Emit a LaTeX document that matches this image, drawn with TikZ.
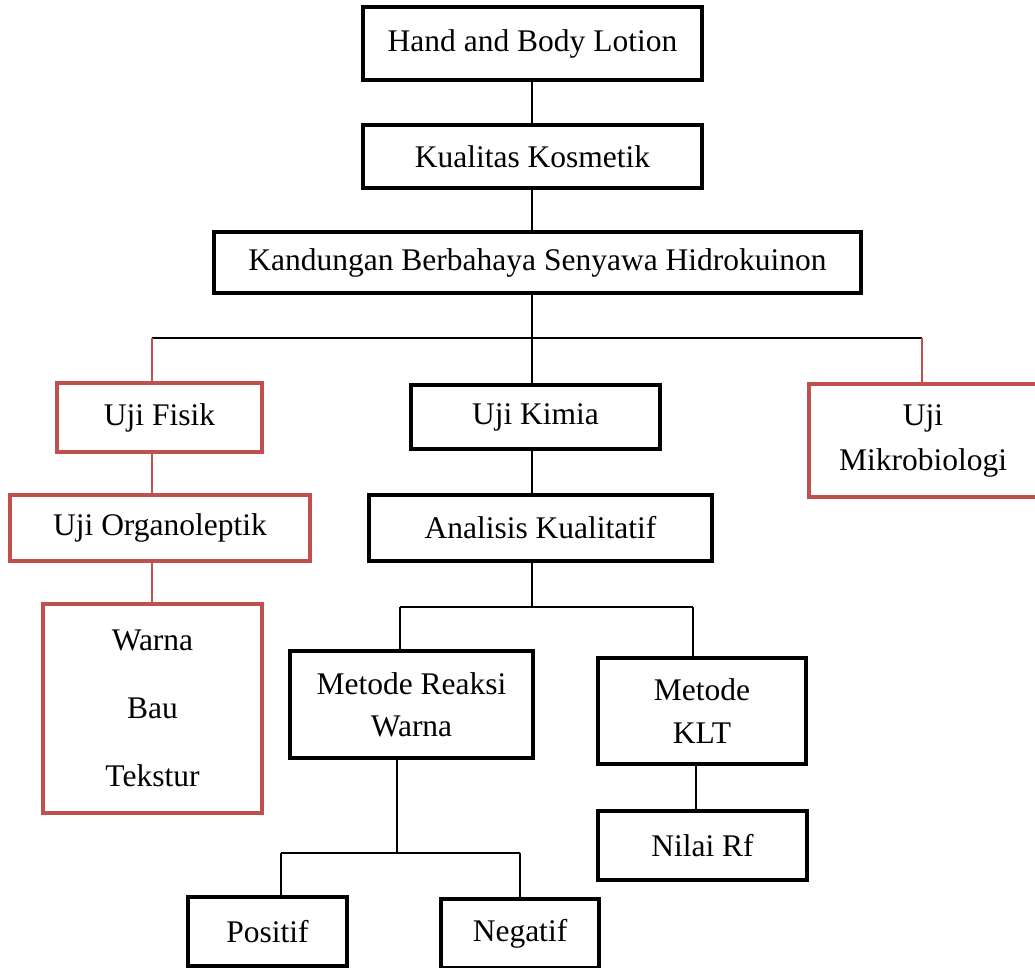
\documentclass[tikz,border=0pt]{standalone}
\usepackage{fontspec}
\setmainfont{Liberation Serif}
\definecolor{redc}{RGB}{192,80,77}
\begin{document}
\begin{tikzpicture}[x=1pt,y=-1pt,
  box/.style={draw=black,line width=4pt,fill=white,align=center,inner sep=0pt,
    font=\fontsize{31.5}{42}\selectfont},
  rbox/.style={box,draw=redc},
  conn/.style={line width=1.4pt,draw=black},
  hconn/.style={line width=2pt,draw=black},
  rconn/.style={line width=1.4pt,draw=redc}]
\useasboundingbox (0,0) rectangle (1035,968);
% nodes
\node[box,minimum width=339pt,minimum height=73pt] (n1) at (532.5,43.5) {Hand and Body Lotion};
\node[box,minimum width=339pt,minimum height=63pt] (n2) at (532.5,156.5) {Kualitas Kosmetik};
\node[box,minimum width=647pt,minimum height=61pt] (n3) at (537.5,262.5) {Kandungan Berbahaya Senyawa Hidrokuinon};
\node[rbox,minimum width=205pt,minimum height=69pt] (fis) at (159.5,417.5) {Uji Fisik};
\node[box,minimum width=249pt,minimum height=64pt] (kim) at (535.5,417) {Uji Kimia};
\node[rbox,minimum width=228pt,minimum height=113pt,font=\fontsize{31.5}{45}\selectfont] (mik) at (923,440.5) {Uji\\Mikrobiologi};
\node[rbox,minimum width=300pt,minimum height=66pt] (org) at (160,528) {Uji Organoleptik};
\node[box,minimum width=343pt,minimum height=66pt] (ana) at (540.5,528) {Analisis Kualitatif};
\node[rbox,minimum width=219pt,minimum height=209pt,font=\fontsize{31.5}{68}\selectfont] (wbt) at (152.5,708.5) {Warna\\Bau\\Tekstur};
\node[box,minimum width=243pt,minimum height=107pt] (mrw) at (411.5,704.5) {Metode Reaksi\\Warna};
\node[box,minimum width=208pt,minimum height=106pt,font=\fontsize{31.5}{43}\selectfont] (klt) at (702,711) {Metode\\KLT};
\node[box,minimum width=209pt,minimum height=69pt] (rf) at (702.5,845.5) {Nilai Rf};
\node[box,minimum width=159pt,minimum height=69pt] (pos) at (267.5,931.5) {Positif};
\node[box,minimum width=158pt,minimum height=69pt] (neg) at (520,933.5) {Negatif};
% junctions
\coordinate (j1) at (532,338);
\coordinate (jL) at (152,338);
\coordinate (jR) at (922,338);
\coordinate (j2) at (532,607);
\coordinate (j2L) at (400,607);
\coordinate (j2R) at (693,607);
\coordinate (j3) at (397,853);
\coordinate (j3L) at (281,853);
\coordinate (j3R) at (520,853);
\coordinate (jK) at (696,780);
% connectors
\draw[conn] (n1.south -| j1) -- (n2.north -| j1);
\draw[conn] (n2.south -| j1) -- (n3.north -| j1);
\draw[conn] (n3.south -| j1) -- (kim.north -| j1);
\draw[hconn] (jL) -- (jR);
\draw[rconn] (jL) -- (fis.north -| jL);
\draw[rconn] (jR) -- (mik.north -| jR);
\draw[rconn] (fis.south -| jL) -- (org.north -| jL);
\draw[rconn] (org.south -| jL) -- (wbt.north -| jL);
\draw[conn] (kim.south -| j1) -- (ana.north -| j1);
\draw[conn] (ana.south -| j1) -- (j2);
\draw[hconn] (j2L) -- (j2R);
\draw[conn] (j2L) -- (mrw.north -| j2L);
\draw[conn] (j2R) -- (klt.north -| j2R);
\draw[conn] (mrw.south -| j3) -- (j3);
\draw[hconn] (j3L) -- (j3R);
\draw[conn] (j3L) -- (pos.north -| j3L);
\draw[conn] (j3R) -- (neg.north -| j3R);
\draw[conn] (klt.south -| jK) -- (rf.north -| jK);
\end{tikzpicture}
\end{document}
